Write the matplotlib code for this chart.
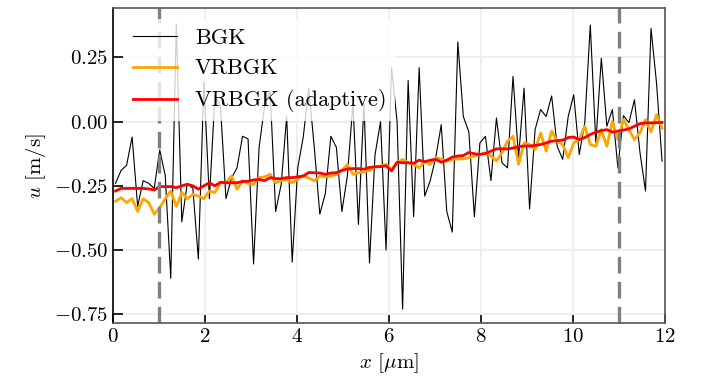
import matplotlib
matplotlib.use("Agg")
import matplotlib.pyplot as plt
import numpy as np

plt.rcParams['font.family'] = 'serif'
plt.rcParams['font.serif'] = ['cmr10']
plt.rcParams['mathtext.fontset'] = 'cm'
plt.rcParams['axes.formatter.use_mathtext'] = True
plt.rcParams['font.size'] = 15

# cell centres, 100 cells over 12 um
x = 0.06 + 0.12 * np.arange(100)

u_bgk = [-0.24, -0.19, -0.17, -0.06, -0.33, -0.23, -0.24, -0.26, -0.11, -0.21,
         -0.61, 0.38, -0.39, -0.24, -0.26, -0.535, 0.156, -0.30, 0.10, 0.06,
         -0.30, -0.22, -0.18, -0.057, -0.067, -0.554, -0.10, 0.06, 0.12, -0.35,
         -0.245, 0.02, -0.547, -0.18, -0.06, 0.13, -0.10, -0.36, -0.28, -0.057,
         -0.10, -0.35, -0.21, 0.07, -0.40, 0.07, -0.55, -0.13, 0.00, -0.50,
         0.21, 0.00, -0.73, 0.16, -0.37, 0.21, -0.29, -0.23, -0.14, -0.012,
         -0.35, -0.43, 0.31, 0.02, -0.04, -0.37, -0.083, -0.057, -0.23, 0.014,
         -0.16, -0.18, 0.176, -0.14, 0.13, -0.34, -0.031, 0.047, 0.02, 0.10,
         -0.096, -0.147, 0.02, 0.105, -0.128, -0.004, 0.376, -0.083, 0.247, -0.018,
         0.047, -0.18, 0.023, -0.004, 0.085, -0.12, -0.27, 0.363, 0.15, -0.154]

u_vrbgk = [-0.31, -0.296, -0.315, -0.30, -0.35, -0.30, -0.315, -0.36, -0.335, -0.30,
           -0.27, -0.33, -0.276, -0.30, -0.283, -0.29, -0.30, -0.27, -0.276, -0.238,
           -0.238, -0.212, -0.263, -0.23, -0.24, -0.244, -0.218, -0.215, -0.205, -0.238,
           -0.23, -0.225, -0.238, -0.225, -0.21, -0.22, -0.23, -0.212, -0.215, -0.212,
           -0.205, -0.19, -0.167, -0.205, -0.199, -0.196, -0.19, -0.176, -0.173, -0.167,
           -0.186, -0.16, -0.147, -0.16, -0.167, -0.18, -0.154, -0.167, -0.141, -0.145,
           -0.154, -0.147, -0.145, -0.145, -0.141, -0.134, -0.128, -0.121, -0.134, -0.153,
           -0.121, -0.076, -0.057, -0.166, -0.083, -0.089, -0.109, -0.044, -0.115, -0.037,
           -0.076, -0.089, -0.14, -0.083, -0.07, -0.018, -0.089, -0.096, -0.031, -0.096,
           0.001, -0.07, 0.008, -0.031, -0.07, -0.044, 0.008, -0.04, 0.027, -0.025]

u_adapt = [-0.27, -0.26, -0.26, -0.26, -0.26, -0.26, -0.262, -0.266, -0.253, -0.253,
           -0.253, -0.257, -0.25, -0.244, -0.25, -0.263, -0.25, -0.238, -0.25, -0.236,
           -0.238, -0.238, -0.238, -0.233, -0.232, -0.227, -0.225, -0.23, -0.218, -0.222,
           -0.222, -0.218, -0.218, -0.215, -0.212, -0.198, -0.199, -0.2, -0.205, -0.2,
           -0.199, -0.19, -0.184, -0.183, -0.183, -0.185, -0.178, -0.176, -0.175, -0.172,
           -0.192, -0.158, -0.16, -0.16, -0.162, -0.15, -0.156, -0.15, -0.147, -0.158,
           -0.15, -0.138, -0.134, -0.132, -0.12, -0.125, -0.128, -0.124, -0.115, -0.106,
           -0.106, -0.106, -0.103, -0.097, -0.095, -0.095, -0.093, -0.089, -0.083, -0.076,
           -0.074, -0.072, -0.062, -0.06, -0.07, -0.062, -0.05, -0.041, -0.035, -0.031,
           -0.041, -0.037, -0.033, -0.028, -0.018, -0.008, -0.005, -0.005, -0.004, -0.003]

x_bounds = [1, 11]

fig = plt.figure(figsize=(7.05, 3.85), dpi=100)
ax = fig.add_axes([0.160, 0.161, 0.783, 0.818])

ax.plot(x, u_bgk, color='black', lw=0.8, label='BGK')
ax.plot(x, u_vrbgk, color='orange', lw=2.0, label='VRBGK')
ax.plot(x, u_adapt, color='red', lw=2.0, label='VRBGK (adaptive)')
for xb in x_bounds:
    ax.axvline(xb, color='#7f7f7f', ls=(0, (5, 2.5)), lw=2.4)

ax.set_xlim(0, 12)
ax.set_ylim(-0.784, 0.442)
ax.set_xticks([0, 2, 4, 6, 8, 10, 12])
ax.set_yticks([-0.75, -0.5, -0.25, 0, 0.25])
ax.grid(True, color='#efefef', lw=1.5)
ax.set_axisbelow(True)
ax.tick_params(direction='in', length=7, width=1.2, labelsize=15)
for s in ax.spines.values():
    s.set_color('#555555')
    s.set_linewidth(1.2)
ax.spines['left'].set_color('black')

ax.set_xlabel(r'$x$ [$\mu$m]', fontsize=15)
ax.set_ylabel(r'$u$ [m/s]', fontsize=15)

leg = ax.legend(loc='upper left', frameon=True, fontsize=16, handlelength=2.0,
                borderaxespad=0.5, labelspacing=0.5)
leg.get_frame().set_edgecolor('none')
leg.get_frame().set_alpha(0.8)

fig.savefig('out.png', dpi=100)
